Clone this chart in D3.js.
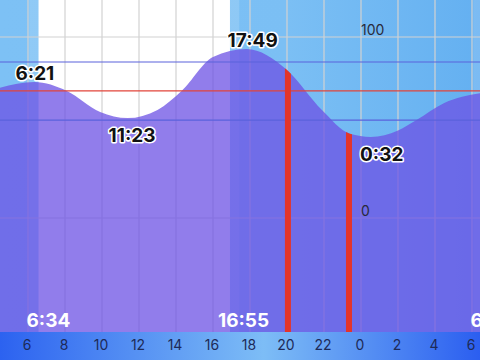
<!DOCTYPE html>
<html>
<head>
<meta charset="utf-8">
<script src="https://cdn.jsdelivr.net/npm/d3@7"></script>
<style>
  html, body { margin: 0; padding: 0; background: #fff; }
  svg { display: block; }
  text { font-family: Inter, Roboto, "Noto Sans", sans-serif; }
</style>
</head>
<body>
<svg id="chart" width="480" height="360"></svg>
<script>
// ============================================
// Tide chart: two days of water level with sun / tide times
// ============================================

// tide curve (hours from midnight of day 1, height %)
const tideHours   = [4.3, 6.35, 8.1, 9.9, 11.38, 13, 14.3, 16, 17.82, 20, 21.9, 23.4, 24.53, 26, 27, 28.5, 30.6];
const tideHeights = [71.5, 75.1, 70.2, 58.6, 55.2, 59.7, 70.2, 89, 93.4, 81.8, 59.5, 46.5, 44.8, 48.3, 54.1, 63.5, 69.2];

// high / low tide labels
const extremeLabels = ['6:21', '11:23', '17:49', '0:32'];
const extremeHours  = [6.35, 11.383, 17.817, 24.533];
const extremeKinds  = ['high', 'low', 'high', 'low'];

// sunrise / sunset
const sunLabels = ['6:34', '16:55', '6:34'];
const sunHours  = [6.567, 16.917, 30.567];
const dayStart = [6.567];
const dayEnd   = [16.917];

// reference levels (mean high, mean, mean low)
const refLevels = [86.2, 70.2, 54.1];

// red vertical markers
const markerHours = [20.05, 23.35];

// axis
const xTicks = [6, 8, 10, 12, 14, 16, 18, 20, 22, 24, 26, 28, 30];
const yTicks = [0, 100];

const W = 480, H = 360, axisTop = 332;

const svg = d3.select('#chart');
const defs = svg.append('defs');

const x = d3.scaleLinear().domain([6, 30]).range([28, 472]);
const y = d3.scaleLinear().domain([0, 100]).range([218, 37]);

const tide = tideHours.map((h, i) => ({ h, v: tideHeights[i] }));

const area = d3.area()
    .x(d => x(d.h))
    .y0(axisTop)
    .y1(d => y(d.v))
    .curve(d3.curveMonotoneX);

// gradients
const sky = defs.append('linearGradient').attr('id', 'sky')
    .attr('x1', 0).attr('x2', 1).attr('y1', 0).attr('y2', 0);
sky.append('stop').attr('offset', 0).attr('stop-color', '#7dc1f5');
sky.append('stop').attr('offset', 0.6).attr('stop-color', '#7bbff4');
sky.append('stop').attr('offset', 1).attr('stop-color', '#64b0f1');

const band = defs.append('linearGradient').attr('id', 'band')
    .attr('x1', 0).attr('x2', 1).attr('y1', 0).attr('y2', 0);
band.append('stop').attr('offset', 0).attr('stop-color', '#2c62f0');
band.append('stop').attr('offset', 0.55).attr('stop-color', '#7dbdf6');
band.append('stop').attr('offset', 1).attr('stop-color', '#2b5ef0');

defs.append('clipPath').attr('id', 'water')
    .append('path').attr('d', area(tide));

// background sky
svg.append('rect')
    .attr('x', 0).attr('y', 0).attr('width', W).attr('height', axisTop)
    .attr('fill', 'url(#sky)');

// twilight bands
sunHours.forEach((h, i) => {
    const isRise = i !== 1;
    const a = isRise ? h - 0.5 : h;
    svg.append('rect')
        .attr('x', x(a)).attr('y', 0)
        .attr('width', x(a + 0.5) - x(a)).attr('height', axisTop)
        .attr('fill', '#fff').attr('opacity', 0.15);
});

// daylight
dayStart.forEach((s, i) => {
    svg.append('rect')
        .attr('x', x(s)).attr('y', 0)
        .attr('width', x(dayEnd[i]) - x(s)).attr('height', axisTop)
        .attr('fill', '#fff');
});

// grid
const grid = svg.append('g').attr('class', 'grid');
grid.selectAll('line.v')
    .data(xTicks)
    .enter().append('line')
    .attr('x1', d => x(d)).attr('x2', d => x(d))
    .attr('y1', 0).attr('y2', axisTop)
    .attr('stroke', '#d2d2d2').attr('stroke-width', 1.2);
grid.selectAll('line.h')
    .data(yTicks)
    .enter().append('line')
    .attr('x1', 0).attr('x2', W)
    .attr('y1', d => y(d)).attr('y2', d => y(d))
    .attr('stroke', '#d2d2d2').attr('stroke-width', 1.2);

// water
svg.append('path')
    .attr('d', area(tide))
    .attr('fill', '#6c52e4')
    .attr('opacity', 0.75);

// reference lines
svg.selectAll('line.ref')
    .data(refLevels)
    .enter().append('line')
    .attr('x1', 0).attr('x2', W)
    .attr('y1', d => y(d)).attr('y2', d => y(d))
    .attr('stroke', (d, i) => i === 1 ? '#e2443a' : '#5a62dc')
    .attr('stroke-width', 1.2);

// red markers, clipped to the water
svg.append('g').attr('clip-path', 'url(#water)')
    .selectAll('rect')
    .data(markerHours)
    .enter().append('rect')
    .attr('x', d => x(d) - 3).attr('y', 0)
    .attr('width', 6).attr('height', axisTop)
    .attr('fill', '#e4352a');

// y labels
svg.selectAll('text.ylab')
    .data(yTicks)
    .enter().append('text')
    .attr('x', x(24)).attr('y', d => y(d) - 2)
    .attr('font-size', 14)
    .attr('fill', '#2a2a3a')
    .text(d => d);

// tide extreme labels
const extG = svg.append('g');
extremeLabels.forEach((lab, i) => {
    const h = extremeHours[i];
    // nearest height from the curve data
    const k = d3.minIndex(tideHours, t => Math.abs(t - h));
    const cy = y(tideHeights[k]);
    const ty = extremeKinds[i] === 'high' ? cy - 2 : cy + 24;
    const x0 = x(h) - 19;
    const t = extG.append('text')
        .attr('x', x0).attr('y', ty)
        .attr('font-size', 19).attr('font-weight', 700)
        .attr('fill', '#111')
        .attr('stroke', '#fff').attr('stroke-width', 3)
        .attr('paint-order', 'stroke')
        .attr('stroke-linejoin', 'round')
        .text(lab);
    const w = t.node().getComputedTextLength();
    // push the label clear of a red marker
    markerHours.forEach(m => {
        const mx = x(m);
        if (mx + 3 > x0 && mx - 3 < x0 + w) t.attr('x', mx + 11);
    });
});

// sun labels
svg.selectAll('text.sun')
    .data(sunLabels)
    .enter().append('text')
    .attr('x', (d, i) => x(sunHours[i]) - 12)
    .attr('y', 327)
    .attr('font-size', 19).attr('font-weight', 700)
    .attr('fill', '#fff')
    .text(d => d);

// axis band
svg.append('rect')
    .attr('x', 0).attr('y', axisTop).attr('width', W).attr('height', H - axisTop)
    .attr('fill', 'url(#band)');

svg.selectAll('text.xlab')
    .data(xTicks)
    .enter().append('text')
    .attr('x', d => x(d) - 1)
    .attr('y', 350)
    .attr('text-anchor', 'middle')
    .attr('font-size', 14)
    .attr('fill', '#1d2a58')
    .text(d => d % 24);
</script>
</body>
</html>
